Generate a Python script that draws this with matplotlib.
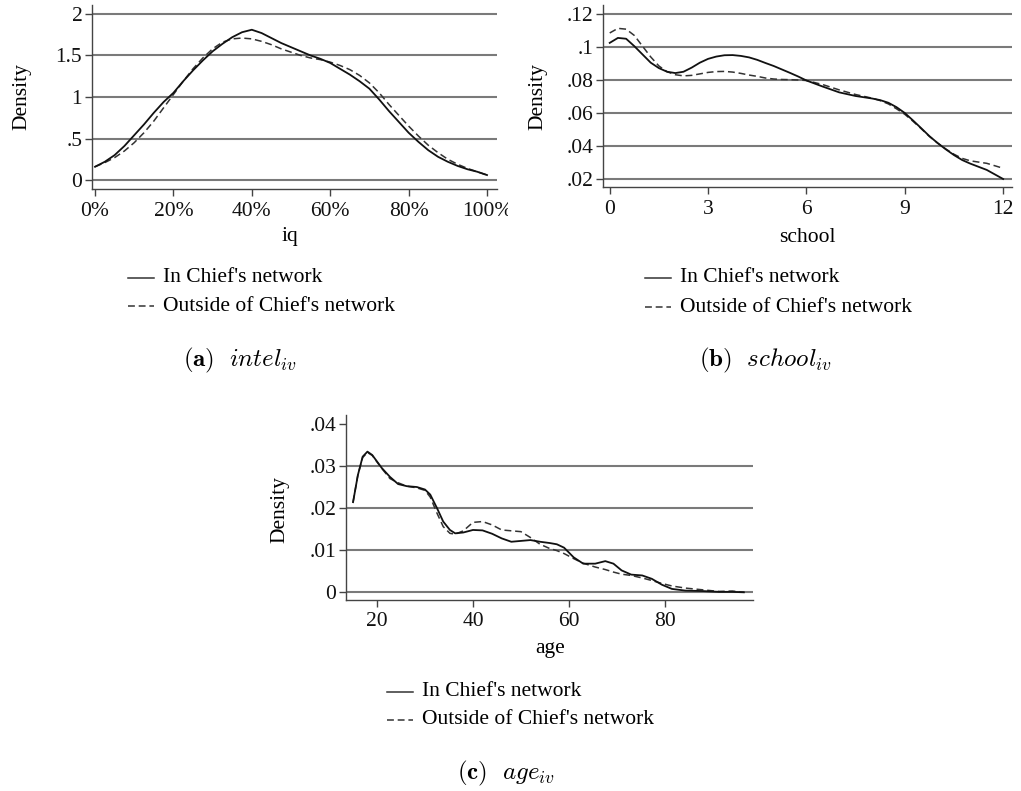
import matplotlib
matplotlib.use("Agg")
import matplotlib.pyplot as plt
from matplotlib.lines import Line2D
from matplotlib.transforms import Bbox

plt.rcParams['font.family'] = ['Liberation Serif', 'DejaVu Serif']
plt.rcParams['mathtext.fontset'] = 'cm'

W, H = 1021, 791

series_labels = ["In Chief's network", "Outside of Chief's network"]

# ---- (a) iq ----
iq_x = [0.000, 0.025, 0.050, 0.075, 0.100, 0.125, 0.150, 0.175, 0.200, 0.225,
        0.250, 0.275, 0.300, 0.325, 0.350, 0.375, 0.400, 0.425, 0.450, 0.475,
        0.500, 0.525, 0.550, 0.575, 0.600, 0.625, 0.650, 0.675, 0.700, 0.725,
        0.750, 0.775, 0.800, 0.825, 0.850, 0.875, 0.900, 0.925, 0.950, 0.975, 1.000]
iq_in = [0.16, 0.22, 0.30, 0.41, 0.54, 0.67, 0.81, 0.94, 1.05, 1.19,
         1.32, 1.44, 1.55, 1.64, 1.72, 1.78, 1.81, 1.77, 1.71, 1.65,
         1.60, 1.55, 1.50, 1.46, 1.41, 1.34, 1.27, 1.19, 1.10, 0.97,
         0.83, 0.70, 0.57, 0.46, 0.36, 0.28, 0.22, 0.17, 0.13, 0.10, 0.06]
iq_out = [0.16, 0.21, 0.27, 0.35, 0.45, 0.57, 0.71, 0.87, 1.03, 1.19,
          1.34, 1.47, 1.58, 1.66, 1.70, 1.71, 1.70, 1.67, 1.63, 1.58,
          1.54, 1.50, 1.47, 1.45, 1.42, 1.38, 1.33, 1.26, 1.17, 1.05,
          0.91, 0.78, 0.65, 0.53, 0.42, 0.33, 0.25, 0.19, 0.14, 0.10, 0.06]
iq_yticks = [0, 0.5, 1, 1.5, 2]
iq_ylabels = ['0', '.5', '1', '1.5', '2']
iq_xticks = [0, 0.2, 0.4, 0.6, 0.8, 1.0]
iq_xlabels = ['0%', '20%', '40%', '60%', '80%', '100%']

# ---- (b) school ----
school_x = [0.0, 0.25, 0.5, 0.75, 1.0, 1.25, 1.5, 1.75, 2.0, 2.25, 2.5, 2.75,
            3.0, 3.25, 3.5, 3.75, 4.0, 4.25, 4.5, 4.75, 5.0, 5.25, 5.5, 5.75,
            6.0, 6.5, 7.0, 7.5, 8.0, 8.25, 8.5, 8.75, 9.0, 9.25, 9.5, 9.75,
            10.0, 10.25, 10.5, 10.75, 11.0, 11.5, 12.0]
school_in = [.1025, .1055, .1050, .1005, .0955, .0905, .0872, .0850, .0842, .0850,
             .0875, .0905, .0928, .0942, .0950, .0951, .0946, .0937, .0922, .0903,
             .0885, .0864, .0843, .0821, .0797, .0760, .0725, .0703, .0688, .0678,
             .0662, .0635, .0600, .0555, .0508, .0460, .0418, .0380, .0345, .0315,
             .0293, .0255, .0200]
school_out = [.1085, .1113, .1108, .1070, .1005, .0940, .0885, .0850, .0832, .0825,
              .0828, .0837, .0846, .0851, .0852, .0848, .0840, .0830, .0822, .0812,
              .0806, .0803, .0802, .0800, .0797, .0772, .0740, .0712, .0690, .0675,
              .0655, .0625, .0592, .0550, .0505, .0458, .0418, .0382, .0350, .0325,
              .0310, .0295, .0265]
school_yticks = [.02, .04, .06, .08, .10, .12]
school_ylabels = ['.02', '.04', '.06', '.08', '.1', '.12']
school_xticks = [0, 3, 6, 9, 12]
school_xlabels = ['0', '3', '6', '9', '12']

# ---- (c) age ----
age_x = [15, 16, 17, 18, 19, 21, 22.7, 24.4, 26.2, 28.3, 30, 31.1, 32.5, 33.8,
         35.2, 36.3, 38, 40, 42, 44, 46, 48, 50, 52, 54, 56, 57.5, 59, 61, 63,
         65.5, 67.6, 69.3, 71, 73, 75.3, 77.3, 79.4, 81.5, 84.3, 87.8, 91.3,
         94.1, 96.5]
age_in = [.0214, .0278, .0322, .0334, .0326, .0295, .0274, .0257, .0252, .0250,
          .0244, .0232, .0200, .0168, .0148, .0140, .0142, .0148, .0147, .0139,
          .0128, .0120, .0122, .0124, .0120, .0117, .0114, .0106, .0083, .0068,
          .0068, .0074, .0068, .0052, .0042, .0040, .0032, .0018, .0008, .0004,
          .0003, .0001, .0001, .0000]
age_out = [.0214, .0278, .0320, .0332, .0325, .0294, .0270, .0260, .0252, .0248,
           .0242, .0226, .0188, .0156, .0140, .0138, .0146, .0166, .0168, .0160,
           .0148, .0146, .0144, .0130, .0114, .0104, .0099, .0092, .0080, .0069,
           .0060, .0054, .0048, .0043, .0040, .0034, .0028, .0021, .0015, .0010,
           .0006, .0002, .0003, .0000]
age_yticks = [0, .01, .02, .03, .04]
age_ylabels = ['0', '.01', '.02', '.03', '.04']
age_xticks = [20, 40, 60, 80]
age_xlabels = ['20', '40', '60', '80']

FS = 15.5
CAP_FS = 18
AXCOL = '#444444'
GRIDCOL = '#7a7a7a'

fig = plt.figure(figsize=(W / 100, H / 100), dpi=100)


def px_axes(left, top, right, bottom):
    return fig.add_axes([left / W, 1 - bottom / H, (right - left) / W, (bottom - top) / H])


def fx(x):
    return x / W


def fy(y):
    return 1 - y / H


def panel(box, xdata, yin, yout, xlim, ylim, xticks, xlabels, yticks, ylabels, gridvals):
    ax = px_axes(*box)
    ax.set_xlim(*xlim)
    ax.set_ylim(*ylim)
    for g in gridvals:
        ax.axhline(g, color=GRIDCOL, lw=1.5, zorder=1)
    ax.plot(xdata, yin, color='#111111', lw=1.3, zorder=3)
    ax.plot(xdata, yout, color='#333333', lw=1.1, dashes=(4.5, 2.5), zorder=2)
    ax.set_xticks(xticks)
    ax.set_xticklabels(xlabels)
    ax.set_yticks(yticks)
    ax.set_yticklabels(ylabels)
    for s in ('top', 'right'):
        ax.spines[s].set_visible(False)
    for s in ('left', 'bottom'):
        ax.spines[s].set_color(AXCOL)
        ax.spines[s].set_linewidth(1.0)
    ax.tick_params(direction='out', length=5, width=1, color=AXCOL,
                   labelsize=FS, labelcolor='#111111')
    ax.tick_params(axis='y', pad=2)
    ax.tick_params(axis='x', pad=4)
    ax.set_facecolor('none')
    return ax


def legend_block(x0, y1, y2):
    fig.add_artist(Line2D([fx(x0), fx(x0 + 26)], [fy(y1), fy(y1)],
                          color='#333333', lw=1.1))
    fig.add_artist(Line2D([fx(x0), fx(x0 + 26)], [fy(y2), fy(y2)],
                          color='#333333', lw=1.1, dashes=(4.5, 2.5)))
    fig.text(fx(x0 + 35), fy(y1), series_labels[0], fontsize=FS, va='center', ha='left')
    fig.text(fx(x0 + 35), fy(y2), series_labels[1], fontsize=FS, va='center', ha='left')


# (a)
ax_a = panel((92, 5, 497, 189), iq_x, iq_in, iq_out,
             (-0.0077, 1.0255), (-0.108, 2.108),
             iq_xticks, iq_xlabels, iq_yticks, iq_ylabels, iq_yticks)
fig.text(fx(290), fy(237), 'iq', fontsize=FS, ha='center', va='center')
fig.text(fx(22), fy(97), 'Density', fontsize=FS, ha='center', va='center', rotation=90)
legend_block(128, 278, 306)
fig.text(fx(240), fy(360), r'$\mathbf{(a)}\ \ intel_{iv}$', fontsize=CAP_FS, ha='center', va='center')
# the last tick label runs into the neighbouring panel and is cut at its edge
last = ax_a.get_xticklabels()[-1]
last.set_clip_on(True)
last.set_clip_box(Bbox.from_extents(0, 0, 508, H))

# (b)
ax_b = panel((603, 5, 1012, 187), school_x, school_in, school_out,
             (-0.205, 12.27), (0.01515, 0.12545),
             school_xticks, school_xlabels, school_yticks, school_ylabels, school_yticks)
fig.text(fx(807), fy(237), 'school', fontsize=FS, ha='center', va='center')
fig.text(fx(538), fy(97), 'Density', fontsize=FS, ha='center', va='center', rotation=90)
legend_block(645, 278, 307)
fig.text(fx(765), fy(360), r'$\mathbf{(b)}\ \ school_{iv}$', fontsize=CAP_FS, ha='center', va='center')

# (c)
ax_c = panel((346, 415, 753, 600), age_x, age_in, age_out,
             (13.53, 98.4), (-0.00183, 0.0421),
             age_xticks, age_xlabels, age_yticks, age_ylabels, [0, .01, .02, .03])
fig.text(fx(550), fy(648), 'age', fontsize=FS, ha='center', va='center')
fig.text(fx(280), fy(510), 'Density', fontsize=FS, ha='center', va='center', rotation=90)
legend_block(387, 692, 720)
fig.text(fx(506), fy(773), r'$\mathbf{(c)}\ \ age_{iv}$', fontsize=CAP_FS, ha='center', va='center')

fig.savefig('out.png', dpi=100, facecolor='white')
